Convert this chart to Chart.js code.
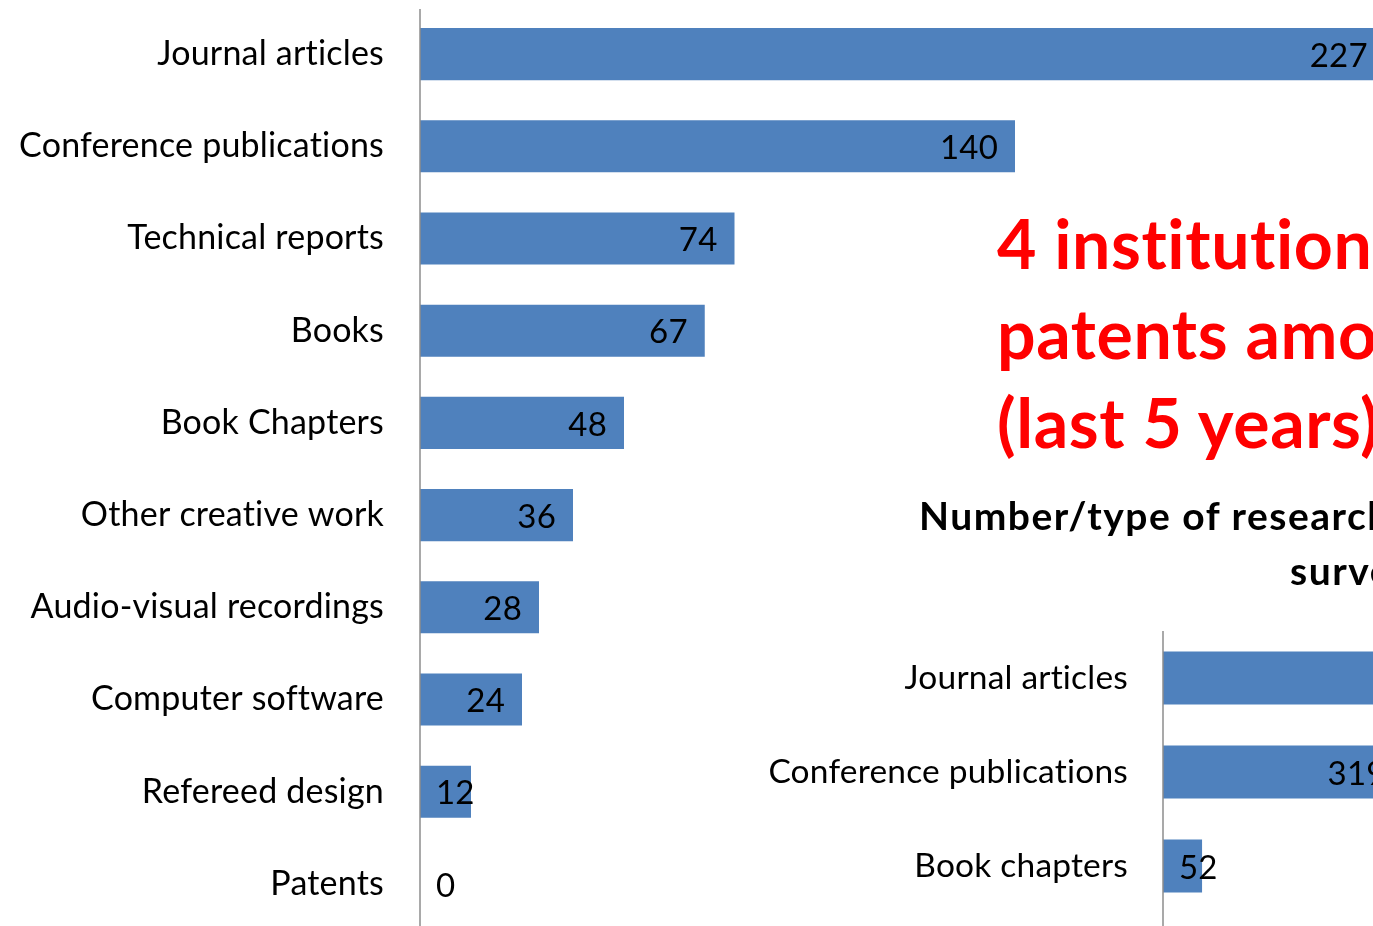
<!DOCTYPE html>
<html>
<head>
<meta charset="utf-8">
<script src="https://cdn.jsdelivr.net/npm/chart.js@4.4.1/dist/chart.umd.min.js"></script>
<style>
  html, body { margin: 0; padding: 0; width: 1373px; height: 926px; overflow: hidden; background: #fff; }
  canvas { position: absolute; }
  #main { left: 0; top: 0; }
  #survey { left: 700px; top: 631px; }
  .txt { position: absolute; white-space: nowrap; font-family: Lato, sans-serif; font-weight: bold;
         font-variant-ligatures: none; }
  .red { left: 997px; top: 198px; color: #ff0000; font-size: 68px; line-height: 89.5px; letter-spacing: 0.6px; }
  .ttl { color: #000; font-size: 39px; line-height: 47px; letter-spacing: 1.5px; }
</style>
</head>
<body>
<canvas id="main" width="1440" height="930"></canvas>
<canvas id="survey" width="1079" height="295"></canvas>
<div class="txt red">4 institutions<br>patents among<br>(last 5 years)</div>
<div class="txt ttl" style="left:919px; top:492px;">Number/type of research publications</div>
<div class="txt ttl" style="left:1290px; top:547px;">survey</div>
<script>
// research outputs of all institutions
const outputTypes = ['Journal articles', 'Conference publications', 'Technical reports', 'Books',
    'Book Chapters', 'Other creative work', 'Audio-visual recordings', 'Computer software',
    'Refereed design', 'Patents'];
const outputCounts = [227, 140, 74, 67, 48, 36, 28, 24, 12, 0];

// survey chart (partly outside the slide)
const surveyTypes = ['Journal articles', 'Conference publications', 'Book chapters'];
const surveyCounts = [480, 319, 52];

const barBlue = '#4f81bd';

// a tiny letter spacing keeps Lato from joining "ti" into a ligature
const noLigatures = {
    id: 'noLigatures',
    beforeDraw(chart) {
        chart.ctx.letterSpacing = '0.2px';
    }
};

// number inside the end of each bar, pushed right when the bar is too short
const valueLabels = {
    id: 'valueLabels',
    afterDatasetsDraw(chart, args, opts) {
        const ctx = chart.ctx;
        const values = chart.data.datasets[0].data;
        ctx.save();
        ctx.font = opts.font;
        ctx.fillStyle = '#000';
        ctx.textBaseline = 'middle';
        ctx.textAlign = 'left';
        chart.getDatasetMeta(0).data.forEach((bar, i) => {
            const txt = String(values[i]);
            const w = ctx.measureText(txt).width;
            const x = Math.max(bar.base + opts.startPad, bar.x - opts.endPad - w);
            ctx.fillText(txt, x, bar.y + opts.dy);
        });
        ctx.restore();
    }
};

// grey category axis line, runs to the bottom of the canvas
const axisLine = {
    id: 'axisLine',
    afterDatasetsDraw(chart, args, opts) {
        const ctx = chart.ctx;
        const x = chart.chartArea.left;
        ctx.save();
        ctx.strokeStyle = '#8c8c8c';
        ctx.lineWidth = 1.5;
        ctx.beginPath();
        ctx.moveTo(x, opts.top);
        ctx.lineTo(x, chart.height);
        ctx.stroke();
        ctx.restore();
    }
};

function barChart(id, labels, values, cfg) {
    return new Chart(document.getElementById(id), {
        type: 'bar',
        data: {
            labels: labels,
            datasets: [{
                data: values,
                backgroundColor: barBlue,
                barPercentage: cfg.barPct,
                categoryPercentage: 1
            }]
        },
        options: {
            indexAxis: 'y',
            responsive: false,
            animation: false,
            layout: { padding: cfg.padding },
            scales: {
                x: { display: false, min: 0, max: cfg.max },
                y: {
                    grid: { display: false, drawTicks: false },
                    border: { display: false },
                    afterFit: scale => {
                        scale.width = cfg.axisWidth;
                        // no extra room above/below the first and last label
                        scale.paddingTop = 0;
                        scale.paddingBottom = 0;
                    },
                    ticks: {
                        color: '#000',
                        padding: cfg.tickPad,
                        font: { family: 'Lato', size: cfg.fontSize }
                    }
                }
            },
            plugins: {
                legend: { display: false },
                tooltip: { enabled: false },
                valueLabels: { font: cfg.valueSize + 'px Lato', startPad: 16, endPad: 17, dy: 2 },
                axisLine: { top: cfg.lineTop }
            }
        },
        plugins: [noLigatures, valueLabels, axisLine]
    });
}

barChart('main', outputTypes, outputCounts, {
    max: 240, axisWidth: 420, tickPad: 36, fontSize: 34, valueSize: 33, barPct: 0.565,
    padding: { top: 8, bottom: 0, left: 0, right: 0 }, lineTop: 9
});

barChart('survey', surveyTypes, surveyCounts, {
    max: 820, axisWidth: 463, tickPad: 35, fontSize: 33.5, valueSize: 33, barPct: 0.565,
    padding: { top: 0, bottom: 13, left: 0, right: 0 }, lineTop: 0
});
</script>
</body>
</html>
